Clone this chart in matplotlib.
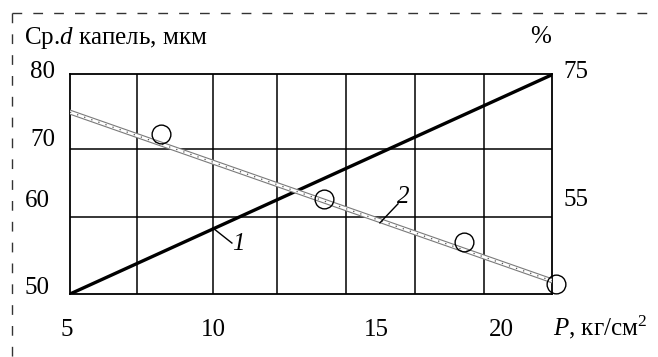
import matplotlib
matplotlib.use("Agg")
import matplotlib.pyplot as plt
from matplotlib.lines import Line2D

plt.rcParams['font.family'] = ['Liberation Serif', 'DejaVu Serif']
plt.rcParams['mathtext.fontset'] = 'custom'
plt.rcParams['mathtext.rm'] = 'Liberation Serif'
plt.rcParams['mathtext.it'] = 'Liberation Serif:italic'

# curve 1 (drop diameter) and curve 2 (percent) vs pressure
p1 = [5.0, 22.0]
d1 = [50.0, 79.9]
p2 = [5.0, 22.0]
d2 = [74.8, 51.8]
# measured points
p_pts = [8.2, 13.95, 18.9, 22.15]
d_pts = [71.8, 62.9, 57.1, 51.3]

# grid lines
x_grid = [7.36, 10.03, 12.3, 14.73, 17.17, 19.6]
y_grid = [60.5, 69.8]

# axis labels
x_lab = ['5', '10', '15', '20']
x_lab_pos = [4.9, 10.04, 15.8, 20.2]
yl_lab = ['50', '60', '70', '80']
yl_lab_pos = [50.8, 62.7, 71.0, 80.3]
yl_lab_x = [-0.068, -0.068, -0.057, -0.057]
yr_lab = ['55', '75']
yr_lab_pos = [62.8, 80.3]

fig = plt.figure(figsize=(6.58, 3.57), dpi=100)
W, H = 658, 357
ax = fig.add_axes([70 / W, (357 - 294) / H, 482 / W, 220 / H])
ax.set_xlim(5, 22)
ax.set_ylim(50, 80)
ax.set_xticks([])
ax.set_yticks([])
for s in ax.spines.values():
    s.set_linewidth(1.3)

for x in x_grid:
    ax.axvline(x, color='black', lw=1.1, zorder=1)
for y in y_grid:
    ax.axhline(y, color='black', lw=1.1, zorder=1)

ax.plot(p1, d1, color='black', lw=2.4, solid_capstyle='butt', zorder=3)

# curve 2: hollow grey band with dotted core
ax.plot(p2, d2, color='#7a7a7a', lw=3.6, zorder=3)
ax.plot(p2, d2, color='white', lw=2.0, zorder=3)
ax.plot(p2, d2, color='#555555', lw=0.9, dashes=(1, 5), zorder=3)

ax.plot(p_pts, d_pts, 'o', ms=13.5, mfc='none', mec='black', mew=1.0,
        zorder=4, clip_on=False)

# curve numbers
ax.plot([10.04, 10.71], [59.0, 56.95], color='black', lw=1.0, zorder=4)
ax.text(10.93, 56.8, '1', fontsize=18, style='italic', ha='center', va='center')
ax.plot([15.93, 16.57], [59.7, 62.3], color='black', lw=1.0, zorder=4)
ax.text(16.75, 63.2, '2', fontsize=18, style='italic', ha='center', va='center')

fs = 18
tr_x = ax.get_xaxis_transform()
for t, x in zip(x_lab, x_lab_pos):
    ax.text(x, -0.164, t, fontsize=fs, ha='center', va='center', transform=tr_x)
tr_y = ax.get_yaxis_transform()
for t, y, xa in zip(yl_lab, yl_lab_pos, yl_lab_x):
    ax.text(xa, y, t, fontsize=fs, ha='center', va='center', transform=tr_y)
for t, y in zip(yr_lab, yr_lab_pos):
    ax.text(1.05, y, t, fontsize=fs, ha='center', va='center', transform=tr_y)

fig.text(24 / W, 1 - 38 / H, 'Ср.$d$ капель, мкм', fontsize=fs, ha='left', va='center')
fig.text(541 / W, 1 - 37 / H, '%', fontsize=fs, ha='center', va='center')
fig.text(553 / W, 1 - 327 / H, '$P$, кг/см$^2$', fontsize=fs, ha='left', va='center')

# dashed frame
fig.add_artist(Line2D([12 / W, 1], [1 - 13 / H, 1 - 13 / H], transform=fig.transFigure,
                      color='#333333', lw=1.0, dashes=(7, 8)))
fig.add_artist(Line2D([12 / W, 12 / W], [1 - 13 / H, 0], transform=fig.transFigure,
                      color='#333333', lw=1.0, dashes=(7, 8)))

fig.savefig('out.png', dpi=100)
